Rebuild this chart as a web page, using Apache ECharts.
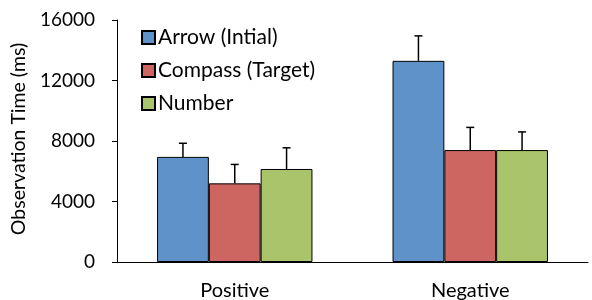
<!DOCTYPE html>
<html><head><meta charset="utf-8">
<script src="https://cdn.jsdelivr.net/npm/echarts@6/dist/echarts.min.js"></script>
<style>html,body{margin:0;padding:0;background:#fff}#c{width:592px;height:300px}</style>
</head><body><div id="c"></div>
<script>
const categories = ['Positive', 'Negative'];
const seriesNames = ['Arrow (Intial)', 'Compass (Target)', 'Number'];
const arrowVals = [6950, 13300];
const compassVals = [5200, 7400];
const numberVals = [6150, 7400];
const arrowErr = [900, 1650];
const compassErr = [1250, 1500];
const numberErr = [1400, 1200];
const yTicks = [0, 4000, 8000, 12000, 16000];

const colors = ['#5F92C8', '#CD6660', '#AAC46B'];
const vals = [arrowVals, compassVals, numberVals];
const errs = [arrowErr, compassErr, numberErr];
const gapFrac = 0.34;
const font = 'Lato, "Open Sans", sans-serif';

const chart = echarts.init(document.getElementById('c'));
const series = [];
vals.forEach((v, i) => {
  series.push({
    name: seriesNames[i], type: 'bar', data: v,
    barGap: '0%', barCategoryGap: (gapFrac * 100) + '%',
    itemStyle: { color: colors[i], borderColor: '#000', borderWidth: 1 },
    z: 2
  });
});
vals.forEach((v, i) => {
  series.push({
    type: 'custom', silent: true, z: 3,
    data: v.map((val, k) => [k, val, val + errs[i][k]]),
    renderItem: function (params, api) {
      const band = api.size([1, 0])[0];
      const bw = band * (1 - gapFrac) / 3;
      const base = api.coord([api.value(0), api.value(1)]);
      const top = api.coord([api.value(0), api.value(2)]);
      const x = base[0] + (i - 1) * bw;
      const st = { stroke: '#000', lineWidth: 1.5 };
      return { type: 'group', children: [
        { type: 'line', shape: { x1: x, y1: base[1], x2: x, y2: top[1] }, style: st },
        { type: 'line', shape: { x1: x - 4, y1: top[1], x2: x + 4, y2: top[1] }, style: st }
      ]};
    }
  });
});

chart.setOption({
  animation: false,
  textStyle: { fontFamily: font },
  grid: { left: 117, right: 4, top: 20, bottom: 38, containLabel: false, outerBoundsMode: 'none' },
  legend: {
    data: seriesNames, orient: 'vertical', left: 136, top: 22,
    itemWidth: 13, itemHeight: 13, itemGap: 12,
    icon: 'rect',
    textStyle: { fontSize: 21, color: '#000', fontFamily: font, padding: [0, 0, 0, -2] }
  },
  xAxis: {
    type: 'category', data: categories,
    axisLine: { lineStyle: { color: '#000', width: 1 } },
    axisTick: { show: false },
    axisLabel: { fontSize: 20, color: '#000', margin: 19, fontFamily: font }
  },
  yAxis: {
    type: 'value', min: yTicks[0], max: yTicks[yTicks.length - 1], interval: 4000,
    name: 'Observation Time (ms)', nameLocation: 'middle', nameGap: 75,
    nameTextStyle: { fontSize: 19.5, color: '#000', fontFamily: font, padding: [0, 0, 0, 4] },
    axisLine: { show: true, lineStyle: { color: '#000', width: 1 } },
    axisTick: { show: true, length: 5, lineStyle: { color: '#000' } },
    splitLine: { show: false },
    axisLabel: { fontSize: 19, color: '#000', margin: 22, fontFamily: font,
      formatter: function (v) { return String(v); } }
  },
  series: series
});
</script></body></html>
